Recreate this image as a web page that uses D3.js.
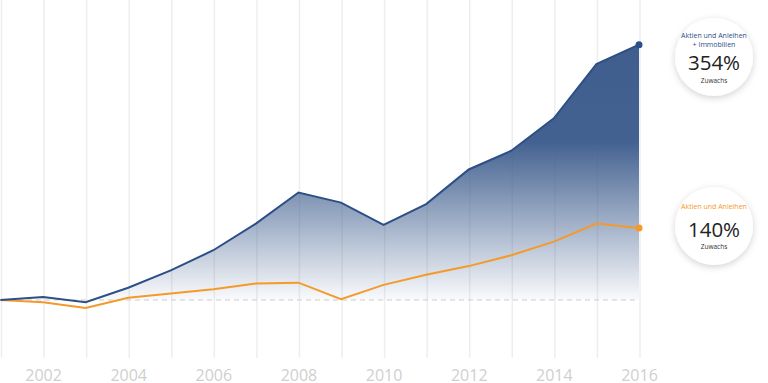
<!DOCTYPE html>
<html><head><meta charset="utf-8">
<script src="https://cdn.jsdelivr.net/npm/d3@7"></script>
<style>html,body{margin:0;padding:0;background:#fff;}svg{display:block;font-family:"Open Sans",sans-serif;}</style>
</head><body>
<svg id="c" width="768" height="383"></svg>
<script>
const years = [2001,2002,2003,2004,2005,2006,2007,2008,2009,2010,2011,2012,2013,2014,2015,2016];
const tickYears = [2002,2004,2006,2008,2010,2012,2014,2016];
const mixed = [0,4,-3,17,41,69,106,149,135,104,133,181,207,252,327,354];
const bonds = [0,-3,-11,3,9,15,23,24,1,21,35,47,62,81,106,100];
const labelMixed = ["Aktien und Anleihen","+ Immobilien"];
const labelBonds = ["Aktien und Anleihen"];
const pctMixed = "354%", pctBonds = "140%", sub = "Zuwachs";

const svg = d3.select("#c");
const x = d3.scaleLinear().domain([2001,2016]).range([0.5,639]);
const y = d3.scaleLinear().domain([0,354]).range([300,44.7]);
const blue = "#2d4f87", fillBlue = "#3f5e8e", orange = "#f49a2a";

const defs = svg.append("defs");
const g = defs.append("linearGradient").attr("id","grad")
  .attr("gradientUnits","userSpaceOnUse").attr("x1",0).attr("x2",0).attr("y1",y(354)).attr("y2",y(0));
g.append("stop").attr("offset","0%").attr("stop-color",fillBlue).attr("stop-opacity",1);
g.append("stop").attr("offset","38%").attr("stop-color",fillBlue).attr("stop-opacity",0.98);
g.append("stop").attr("offset","100%").attr("stop-color",fillBlue).attr("stop-opacity",0.03);
const f = defs.append("filter").attr("id","sh").attr("x","-30%").attr("y","-30%").attr("width","160%").attr("height","160%");
f.append("feDropShadow").attr("dx",0).attr("dy",2).attr("stdDeviation",3.5).attr("flood-color","#000").attr("flood-opacity",0.18);

// gridlines
svg.append("g").selectAll("line").data(years).join("line")
  .attr("x1",d=>x(d)+1).attr("x2",d=>x(d)+1).attr("y1",0).attr("y2",358)
  .attr("stroke","#eeeeee").attr("stroke-width",1.5);

// area
const area = d3.area().x((d,i)=>x(years[i])).y0(y(0)).y1(d=>y(d));
svg.append("path").datum(mixed).attr("d",area).attr("fill","url(#grad)");

// baseline
svg.append("line").attr("x1",0).attr("x2",x(2016)).attr("y1",y(0)).attr("y2",y(0))
  .attr("stroke","#cccccc").attr("stroke-width",1.2).attr("stroke-dasharray","5,4");

const line = d3.line().x((d,i)=>x(years[i])).y(d=>y(d));
svg.append("path").datum(bonds).attr("d",line).attr("fill","none").attr("stroke",orange).attr("stroke-width",2);
svg.append("path").datum(mixed).attr("d",line).attr("fill","none").attr("stroke",blue).attr("stroke-width",2);
svg.append("circle").attr("cx",x(2016)).attr("cy",y(354)).attr("r",3.5).attr("fill",blue);
svg.append("circle").attr("cx",x(2016)).attr("cy",y(100)).attr("r",3.5).attr("fill",orange);

// x axis labels
const ax = svg.append("g").attr("transform","translate(0,381)")
  .call(d3.axisBottom(x).tickValues(tickYears).tickFormat(d3.format("d")).tickSize(0).tickPadding(0));
ax.select(".domain").remove();
ax.selectAll("text").attr("dy",0).attr("font-size",16).attr("fill","#cfcfcf").attr("font-family","'Open Sans',sans-serif");

// badges
function badge(cx, cy, lines, color, pct, firstY, pctY, subY){
  const b = svg.append("g");
  b.append("circle").attr("cx",cx).attr("cy",cy).attr("r",39).attr("fill","#fff").attr("filter","url(#sh)");
  lines.forEach((t,i)=>b.append("text").attr("x",cx).attr("y",firstY+i*8.5).attr("text-anchor","middle")
    .attr("font-size",7).attr("fill",color).text(t));
  b.append("text").attr("x",cx).attr("y",pctY).attr("text-anchor","middle").attr("font-size",20.5).attr("fill","#222").text(pct);
  b.append("text").attr("x",cx).attr("y",subY).attr("text-anchor","middle").attr("font-size",6.5).attr("fill","#333").text(sub);
}
badge(714, 57, labelMixed, "#2d4f87", pctMixed, 38, 70, 83);
badge(714, 226, labelBonds, orange, pctBonds, 208.5, 237, 248.5);
</script>
</body></html>
